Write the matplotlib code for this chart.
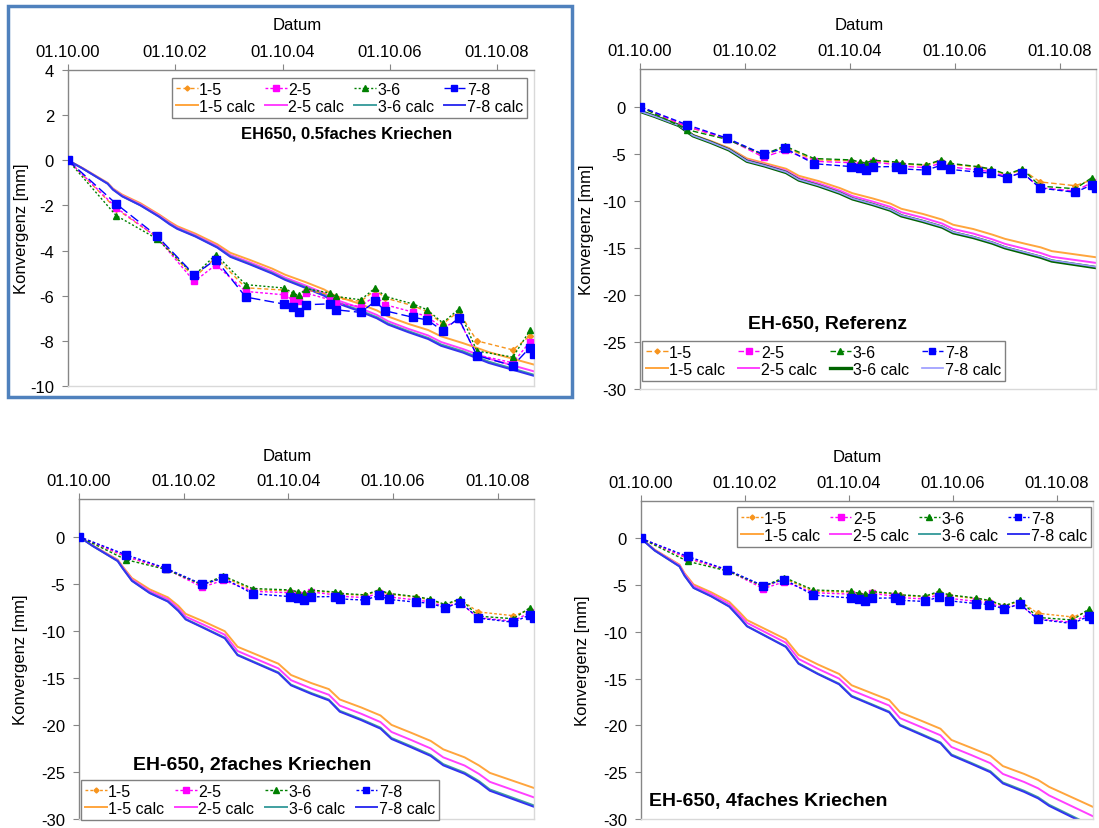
import matplotlib
matplotlib.use("Agg")
import matplotlib.pyplot as plt
import matplotlib.dates as mdates
from matplotlib.patches import Rectangle
import numpy as np
import pandas as pd

plt.rcParams['font.family'] = ['Liberation Sans', 'DejaVu Sans']
plt.rcParams['axes.unicode_minus'] = False

# ---------------- data ----------------
meas_dates = ["2000-10-01", "2001-08-25", "2002-05-28", "2003-02-08", "2003-07-05",
              "2004-01-25", "2004-10-12", "2004-12-09", "2005-01-18", "2005-03-10",
              "2005-08-21", "2005-09-27", "2006-03-18", "2006-06-24", "2006-09-01",
              "2007-03-11", "2007-06-13", "2007-09-27", "2008-01-14", "2008-05-17",
              "2009-01-17", "2009-05-13", "2009-06-07"]
m_15 = [0, -2.15, -3.40, -5.20, -4.30, -5.65, -5.75, -5.95, -6.05, -5.75, -5.95, -6.10,
        -6.25, -5.75, -6.10, -6.45, -6.70, -7.25, -6.70, -8.00, -8.40, -7.78, np.nan]
m_25 = [0, -2.10, -3.40, -5.37, -4.63, -5.81, -5.96, -6.18, -6.25, -5.88, -6.18, -6.33,
        -6.48, -6.00, -6.40, -6.73, -6.92, -7.44, -7.05, -8.62, -8.97, -8.05, np.nan]
m_36 = [0, -2.45, -3.47, -5.10, -4.18, -5.51, -5.66, -5.87, -5.99, -5.69, -5.88, -6.03,
        -6.18, -5.66, -6.03, -6.37, -6.62, -7.20, -6.60, -8.45, -8.72, -7.54, np.nan]
m_78 = [0, -1.93, -3.34, -5.07, -4.40, -6.06, -6.37, -6.48, -6.70, -6.40, -6.36, -6.62,
        -6.74, -6.25, -6.67, -6.96, -7.07, -7.55, -7.00, -8.65, -9.10, -8.30, -8.60]

calc_dates = ["2000-10-01", "2001-01-05", "2001-06-28", "2001-08-03", "2001-10-05",
              "2002-02-06", "2002-06-13", "2002-08-25", "2002-10-15", "2003-02-16",
              "2003-07-15", "2003-10-12", "2004-02-24", "2004-07-23", "2004-10-19",
              "2005-03-08", "2005-07-10", "2005-09-24", "2006-02-21", "2006-07-05",
              "2006-09-20", "2007-02-06", "2007-06-20", "2007-09-16", "2008-02-12",
              "2008-05-21", "2008-08-06", "2009-06-09"]

# 0.5faches Kriechen
c05_15 = [0, -0.33, -1.0, -1.25, -1.52, -1.9, -2.4, -2.72, -2.92, -3.25, -3.72, -4.1, -4.42, -4.8,
          -5.07, -5.4, -5.72, -6.0, -6.32, -6.65, -6.92, -7.25, -7.52, -7.8, -8.1, -8.32, -8.5, -9.05]
c05_25 = [0, -0.34, -1.02, -1.27, -1.56, -1.95, -2.45, -2.78, -2.98, -3.32, -3.8, -4.2, -4.53, -4.92,
          -5.2, -5.55, -5.88, -6.17, -6.5, -6.85, -7.13, -7.47, -7.76, -8.05, -8.36, -8.6, -8.79, -9.35]
c05_36 = [0, -0.35, -1.03, -1.29, -1.59, -1.99, -2.49, -2.82, -3.02, -3.36, -3.85, -4.25, -4.59, -4.99,
          -5.27, -5.62, -5.96, -6.26, -6.6, -6.95, -7.23, -7.57, -7.87, -8.16, -8.46, -8.72, -8.92, -9.5]
c05_78 = [0, -0.35, -1.04, -1.3, -1.6, -2.0, -2.5, -2.84, -3.04, -3.38, -3.87, -4.28, -4.62, -5.02,
          -5.3, -5.66, -6.0, -6.3, -6.65, -7.0, -7.28, -7.62, -7.92, -8.22, -8.52, -8.78, -8.98, -9.55]

# Referenz
cref_15 = [-0.5, -1.0, -1.95, -2.3, -3.0, -3.65, -4.4, -5.05, -5.5, -6.0, -6.6, -7.35, -7.9, -8.65,
           -9.2, -9.75, -10.3, -10.85, -11.4, -12.0, -12.55, -13.0, -13.6, -14.05, -14.6, -14.95, -15.35, -16.0]
cref_25 = [-0.5, -1.0, -2.0, -2.35, -3.05, -3.72, -4.5, -5.18, -5.65, -6.15, -6.8, -7.58, -8.15, -8.92,
           -9.5, -10.08, -10.65, -11.22, -11.8, -12.42, -13.0, -13.48, -14.1, -14.58, -15.15, -15.55, -15.95, -16.6]
cref_36 = [-0.5, -1.0, -2.0, -2.4, -3.1, -3.8, -4.6, -5.3, -5.8, -6.3, -7.0, -7.8, -8.4, -9.2,
           -9.8, -10.4, -11.0, -11.6, -12.2, -12.8, -13.4, -13.9, -14.5, -15.0, -15.6, -16.0, -16.4, -17.1]
cref_78 = [-0.5, -1.0, -2.0, -2.38, -3.08, -3.78, -4.57, -5.27, -5.77, -6.27, -6.96, -7.76, -8.36, -9.15,
           -9.75, -10.35, -10.95, -11.54, -12.14, -12.74, -13.33, -13.83, -14.43, -14.93, -15.52, -15.92, -16.32, -17.02]

# 2faches Kriechen
c2_15 = [0, -0.95, -2.45, -3.2, -4.4, -5.6, -6.45, -7.35, -8.2, -9.0, -10.05, -11.7, -12.55, -13.5,
         -14.7, -15.55, -16.2, -17.3, -18.15, -19.0, -20.0, -20.85, -21.7, -22.6, -23.45, -24.3, -25.1, -26.7]
c2_25 = [0, -0.97, -2.52, -3.3, -4.55, -5.8, -6.65, -7.62, -8.5, -9.35, -10.42, -12.15, -13.03, -14.0,
         -15.25, -16.12, -16.8, -17.95, -18.82, -19.7, -20.75, -21.62, -22.5, -23.45, -24.32, -25.2, -26.05, -27.7]
c2_36 = [0, -0.99, -2.58, -3.38, -4.67, -5.96, -6.86, -7.85, -8.75, -9.64, -10.74, -12.53, -13.43, -14.42,
         -15.72, -16.61, -17.31, -18.5, -19.4, -20.29, -21.39, -22.28, -23.18, -24.17, -25.07, -25.96, -26.86, -28.55]
c2_78 = [0, -1.0, -2.6, -3.4, -4.7, -6.0, -6.9, -7.9, -8.8, -9.7, -10.8, -12.6, -13.5, -14.5,
         -15.8, -16.7, -17.4, -18.6, -19.5, -20.4, -21.5, -22.4, -23.3, -24.3, -25.2, -26.1, -27.0, -28.7]

# 4faches Kriechen
c4_15 = [0, -1.2, -2.8, -3.72, -4.92, -5.76, -6.78, -7.9, -8.73, -9.66, -10.78, -12.45, -13.47, -14.49,
         -15.7, -16.54, -17.28, -18.58, -19.5, -20.35, -21.55, -22.39, -23.22, -24.34, -25.18, -25.83, -26.57, -28.7]
c4_25 = [0, -1.25, -2.88, -3.84, -5.09, -5.96, -7.02, -8.17, -9.03, -9.99, -11.15, -12.88, -13.93, -14.99,
         -16.24, -17.1, -17.87, -19.22, -20.18, -21.05, -22.3, -23.16, -24.03, -25.18, -26.04, -26.72, -27.48, -29.7]
c4_36 = [0, -1.29, -2.98, -3.98, -5.27, -6.17, -7.26, -8.46, -9.36, -10.35, -11.55, -13.34, -14.44, -15.53,
         -16.83, -17.72, -18.52, -19.92, -20.91, -21.81, -23.1, -24.0, -24.89, -26.09, -26.98, -27.68, -28.48, -30.77]
c4_78 = [0, -1.3, -3.0, -4.0, -5.3, -6.2, -7.3, -8.5, -9.4, -10.4, -11.6, -13.4, -14.5, -15.6,
         -16.9, -17.8, -18.6, -20.0, -21.0, -21.9, -23.2, -24.1, -25.0, -26.2, -27.1, -27.8, -28.6, -30.9]

series_names = ["1-5", "2-5", "3-6", "7-8"]
x_tick_dates = ["2000-10-01", "2002-10-01", "2004-10-01", "2006-10-01", "2008-10-01"]
x_start, x_end = "2000-10-01", "2009-06-10"

titles = ["EH650, 0.5faches Kriechen", "EH-650, Referenz",
          "EH-650, 2faches Kriechen", "EH-650, 4faches Kriechen"]

# ---------------- figure ----------------
W, H = 1099, 829
fig = plt.figure(figsize=(W / 100, H / 100), dpi=100)
fig.patch.set_facecolor("white")

md = pd.to_datetime(meas_dates)
cd = pd.to_datetime(calc_dates)

meas_colors = ["#F7941D", "#FF00FF", "#008000", "#0000FF"]
meas_markers = ["D", "s", "^", "s"]
meas_ms = [3.0, 4.5, 4.8, 5.6]


def px_rect(l, r, t, b):
    return [l / W, 1 - b / H, (r - l) / W, (b - t) / H]


def panel(rect, ylim, yticks, calcs, calc_colors, calc_lw, meas_ls, leg_box, datum_xy, ylab_x):
    ax = fig.add_axes(px_rect(*rect))
    meas = [m_15, m_25, m_36, m_78]
    handles = []
    for i in range(4):
        h_m, = ax.plot(md, meas[i], linestyle=meas_ls[i], color=meas_colors[i], lw=1.0,
                       marker=meas_markers[i], ms=meas_ms[i], mec=meas_colors[i],
                       mfc=meas_colors[i], label=series_names[i], zorder=4 + i * 0.1)
        handles.append(h_m)
    calc_handles = []
    order = [0, 1, 3, 2] if calc_colors[2] == "#006400" else [0, 1, 2, 3]
    for i in order:
        h_c, = ax.plot(cd, calcs[i], color=calc_colors[i], lw=calc_lw[i],
                       label=series_names[i] + " calc", zorder=2 + i * 0.1)
        calc_handles.append((i, h_c))
    calc_handles = [h for _, h in sorted(calc_handles, key=lambda z: z[0])]

    ax.set_xlim(pd.Timestamp(x_start), pd.Timestamp(x_end))
    ax.set_ylim(*ylim)
    ax.set_yticks(yticks)
    ax.set_xticks(pd.to_datetime(x_tick_dates))
    ax.xaxis.set_major_formatter(mdates.DateFormatter("%d.%m.%y"))
    ax.xaxis.tick_top()
    ax.tick_params(axis="x", which="both", top=True, bottom=False, direction="out",
                   length=4, color="#868686", labelsize=12, pad=4)
    ax.tick_params(axis="y", direction="out", length=4, color="#868686", labelsize=12, pad=6)
    ax.minorticks_off()
    for s in ["left", "top"]:
        ax.spines[s].set_color("#868686")
        ax.spines[s].set_linewidth(1.0)
    for s in ["right", "bottom"]:
        ax.spines[s].set_color("#D9D9D9")
        ax.spines[s].set_linewidth(1.0)

    # legend (column-wise order to get rows: measured / calc)
    leg_h, leg_l = [], []
    for i in range(4):
        leg_h += [handles[i], calc_handles[i]]
        leg_l += [series_names[i], series_names[i] + " calc"]
    l, r, t, b = leg_box
    leg = ax.legend(leg_h, leg_l, ncol=4, loc="upper left",
                    bbox_to_anchor=(l / W, 1 - b / H, (r - l) / W, (b - t) / H),
                    bbox_transform=fig.transFigure, mode="expand", borderaxespad=0,
                    fontsize=11.5, handlelength=1.35, handletextpad=0.1, columnspacing=0.1,
                    labelspacing=0.12, borderpad=0.25, frameon=True, fancybox=False,
                    edgecolor="#808080", framealpha=1, markerscale=0.85)
    leg.get_frame().set_linewidth(1.0)
    leg.set_zorder(10)

    fig.text(datum_xy[0] / W, 1 - datum_xy[1] / H, "Datum", ha="center", va="center", fontsize=12)
    cy = (rect[2] + rect[3]) / 2
    fig.text(ylab_x / W, 1 - cy / H, "Konvergenz [mm]", rotation=90, ha="center", va="center",
             fontsize=12)
    return ax


std_calc_colors = ["#FFA53D", "#FF40FF", "#40A0A0", "#3333F0"]
ref_calc_colors = ["#FFA53D", "#FF40FF", "#006400", "#9999FF"]

# Panel 1
panel((68, 534, 71, 387), (-10, 4), [4, 2, 0, -2, -4, -6, -8, -10],
      [c05_15, c05_25, c05_36, c05_78], std_calc_colors, [1.4, 1.4, 1.4, 1.4],
      [(0, (3, 2)), (0, (2, 1.5)), (0, (1.5, 1.5)), (0, (7, 3))],
      (172, 527, 79, 120), (297, 25), 22)
fig.text(347 / W, 1 - 134 / H, titles[0], ha="center", va="center", fontsize=12, fontweight="bold")

# Panel 2
panel((640, 1096, 70, 390), (-30, 4), [0, -5, -10, -15, -20, -25, -30],
      [cref_15, cref_25, cref_36, cref_78], ref_calc_colors, [1.4, 1.4, 2.4, 1.2],
      [(0, (4, 2))] * 4,
      (642, 1005, 342, 388), (859, 26), 586)
fig.text(828 / W, 1 - 325 / H, titles[1], ha="center", va="center", fontsize=14, fontweight="bold")

# Panel 3
panel((79, 534, 500, 820), (-30, 4), [0, -5, -10, -15, -20, -25, -30],
      [c2_15, c2_25, c2_36, c2_78], std_calc_colors, [1.4, 1.4, 1.4, 1.4],
      [(0, (2, 1.5))] * 4,
      (81, 439, 781, 818), (287, 457), 21)
fig.text(252 / W, 1 - 766 / H, titles[2], ha="center", va="center", fontsize=14, fontweight="bold")

# Panel 4
panel((641, 1093, 502, 820), (-30, 4), [0, -5, -10, -15, -20, -25, -30],
      [c4_15, c4_25, c4_36, c4_78], std_calc_colors, [1.4, 1.4, 1.4, 1.4],
      [(0, (2, 1.5))] * 4,
      (737, 1091, 508, 545), (857, 458), 583)
fig.text(649 / W, 1 - 802 / H, titles[3], ha="left", va="center", fontsize=14, fontweight="bold")

# blue frame around panel 1
fig.patches.append(Rectangle((8 / W, 1 - 398 / H), (572 - 8) / W, (398 - 7) / H,
                             transform=fig.transFigure, fill=False, edgecolor="#4F81BD",
                             linewidth=2.5, zorder=20))

fig.savefig("out.png", dpi=100, facecolor="white")
